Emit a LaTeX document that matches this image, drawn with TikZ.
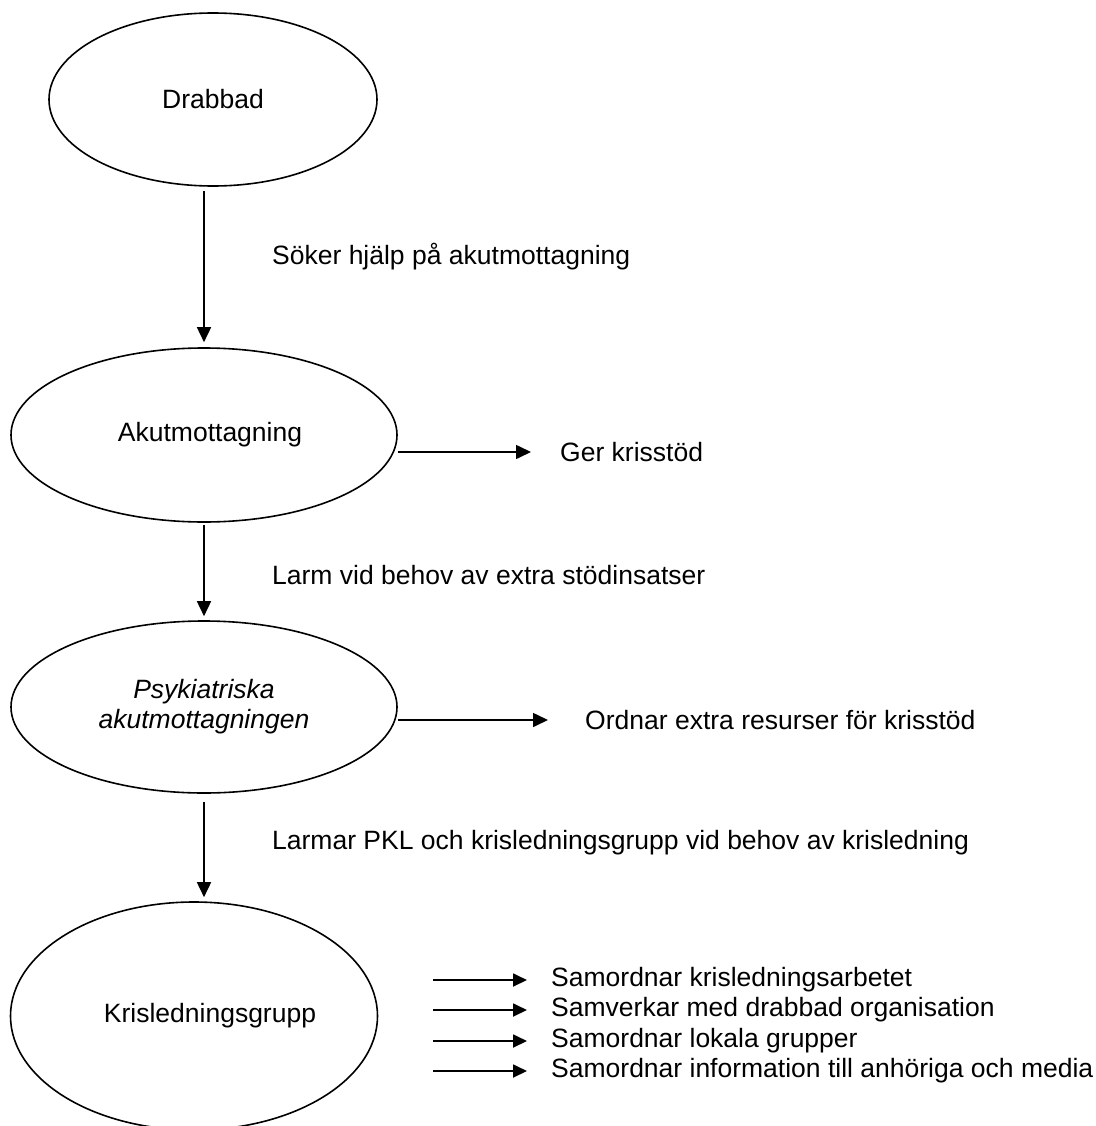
\documentclass[tikz,border=0pt]{standalone}
\usepackage{fontspec}
\setmainfont{Liberation Sans}
\usetikzlibrary{shapes.geometric,arrows.meta}
\begin{document}
\begin{tikzpicture}[x=1pt,y=-1pt,
  every node/.style={font=\fontsize{26.5}{30}\selectfont},
  oval/.style={draw,ellipse,line width=1.6pt,inner sep=0pt,align=center},
  txt/.style={inner sep=0pt,anchor=west},
  arr/.style={line width=1.6pt,-{Triangle[length=15pt,width=14pt]}},
  sarr/.style={line width=1.8pt,-{Triangle[length=14pt,width=13pt]}}]
\useasboundingbox (0,0) rectangle (1095,1126);
\clip (0,0) rectangle (1095,1126);
% ellipses
\node[oval,minimum width=328pt,minimum height=173pt] (e1) at (213,99.5) {Drabbad};
\node[oval,minimum width=386pt,minimum height=174pt] (e2) at (204,435) {\hspace*{12pt}Akutmottagning};
\node[oval,minimum width=386pt,minimum height=172pt] (e3) at (204,707) {\itshape Psykiatriska\\\itshape akutmottagningen};
\node[oval,minimum width=367pt,minimum height=228pt] (e4) at (194,1016) {\hspace*{32pt}Krisledningsgrupp};
% vertical labels
\node[txt] (t1) at (272,257) {Söker hjälp på akutmottagning};
\node[txt] (t2) at (272,575) {Larm vid behov av extra stödinsatser};
\node[txt] (t3) at (272,843) {Larmar PKL och krisledningsgrupp vid behov av krisledning};
% side labels
\node[txt] (g1) at (560,452) {Ger krisstöd};
\node[txt] (g2) at (585,720) {Ordnar extra resurser för krisstöd};
\node[txt] (s1) at (551,980) {Samordnar krisledningsarbetet};
\node[txt] (s2) at (551,1010) {Samverkar med drabbad organisation};
\node[txt] (s3) at (551,1041) {Samordnar lokala grupper};
\node[txt] (s4) at (551,1071) {Samordnar information till anhöriga och media};
% vertical connectors
\draw[arr] ([yshift=-4pt]e1.south -| e2.north) -- ([yshift=5pt]e2.north);
\draw[arr] ([yshift=-2pt]e2.south) -- ([yshift=4pt]e3.north);
\draw[arr] ([yshift=-8pt]e3.south) -- ([yshift=4pt]e4.north -| e3.south);
% side connectors
\draw[arr] (g1.west -| e2.east) -- ([xshift=-29pt]g1.west);
\draw[arr] (g2.west -| e3.east) -- ([xshift=-37pt]g2.west);
\foreach \s in {s1,s2,s3,s4}
  \draw[sarr] ([xshift=-118pt]\s.west) -- ([xshift=-24pt]\s.west);
\end{tikzpicture}
\end{document}
